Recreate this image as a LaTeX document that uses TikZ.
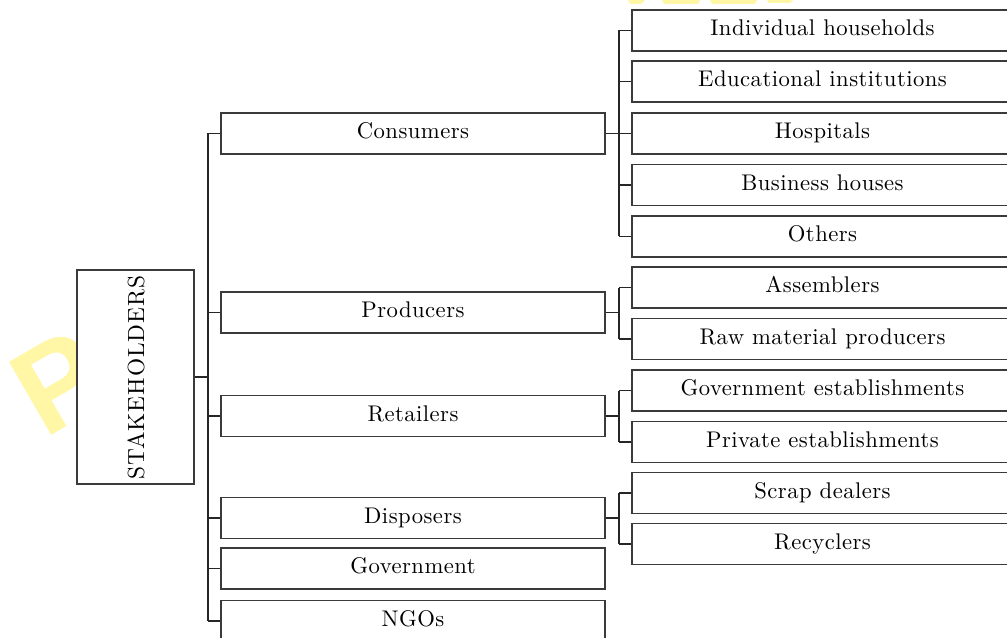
\documentclass[tikz,border=0pt]{standalone}
\usepackage{fontspec}
\newfontfamily\wmfont{Liberation Sans}
\newfontfamily\lmten{lmroman10-regular}[Extension=.otf,LetterSpace=2]
\newfontfamily\lmtenwide{lmroman10-regular}[Extension=.otf,LetterSpace=4]
\definecolor{wm}{HTML}{FFF6A6}
\definecolor{boxline}{HTML}{3A3A3A}
\begin{document}
\begin{tikzpicture}[x=0.75pt,y=-0.75pt,
  box/.style={draw=boxline,line width=1pt,fill=white,inner sep=0pt,
    font=\fontsize{17}{20}\lmten,text height=12pt,text depth=4pt},
  lbox/.style={box,minimum width=288pt,minimum height=30.75pt},
  rbox/.style={box,minimum width=285.75pt,minimum height=30.75pt},
  conn/.style={draw=black!85,line width=0.8pt}]
\useasboundingbox (0,0) rectangle (1007,638);
\clip (0,0) rectangle (1007,638);
% watermark
\node[rotate=30,anchor=base west,inner sep=0pt,text=wm,font=\fontsize{92}{92}\wmfont\bfseries] (wmP) at (44,440) {P};
\fill[wm] (628,0) -- (645,0) -- (641,4) -- (630,4) -- cycle;
\fill[wm] (662,0) -- (700,0) -- (698,4) -- (664,4) -- cycle;
\fill[wm] (710,0) -- (757,0) -- (755,4) -- (712,4) -- cycle;
\fill[wm] (767,0) -- (793,0) -- (790,3) -- (769,3) -- cycle;
% root
\node[draw=boxline,line width=1pt,fill=white,inner sep=0pt,minimum width=87.75pt,minimum height=160.5pt] (stake) at (135.5,377) {};
\node[rotate=90,inner sep=0pt,font=\fontsize{17.5}{20}\lmtenwide] (staketxt) at (136,377.5) {STAKEHOLDERS};
% first level
\node[lbox] (cons) at (413,133.5) {Consumers};
\node[lbox] (prod) at (413,312.5) {Producers};
\node[lbox] (ret)  at (413,416) {Retailers};
\node[lbox] (disp) at (413,518) {Disposers};
\node[lbox] (gov)  at (413,568.5) {Government};
\node[lbox] (ngo)  at (413,621) {NGOs};
% second level
\node[rbox] (c1) at (822.5,30.5) {Individual households};
\node[rbox] (c2) at (822.5,81.5) {Educational institutions};
\node[rbox] (c3) at (822.5,133.5) {Hospitals};
\node[rbox] (c4) at (822.5,185) {Business houses};
\node[rbox] (c5) at (822.5,236.5) {Others};
\node[rbox] (p1) at (822.5,287.5) {Assemblers};
\node[rbox] (p2) at (822.5,339) {Raw material producers};
\node[rbox] (r1) at (822.5,390.5) {Government establishments};
\node[rbox] (r2) at (822.5,442) {Private establishments};
\node[rbox] (d1) at (822.5,493) {Scrap dealers};
\node[rbox] (d2) at (822.5,544) {Recyclers};
% buses
\coordinate (bus0) at (208,377);
\coordinate (bus1) at (619,133.5);
\draw[conn] (stake.east) -- (stake.east -| bus0);
\draw[conn] (cons.west -| bus0) -- (ngo.west -| bus0);
\foreach \n in {cons,prod,ret,disp,gov,ngo} \draw[conn] (\n.west -| bus0) -- (\n.west);
% consumers
\draw[conn] (cons.east) -- (cons.east -| bus1);
\draw[conn] (c1.west -| bus1) -- (c5.west -| bus1);
\foreach \n in {c1,c2,c3,c4,c5} \draw[conn] (\n.west -| bus1) -- (\n.west);
% producers
\draw[conn] (prod.east) -- (prod.east -| bus1);
\draw[conn] (p1.west -| bus1) -- (p2.west -| bus1);
\foreach \n in {p1,p2} \draw[conn] (\n.west -| bus1) -- (\n.west);
% retailers
\draw[conn] (ret.east) -- (ret.east -| bus1);
\draw[conn] (r1.west -| bus1) -- (r2.west -| bus1);
\foreach \n in {r1,r2} \draw[conn] (\n.west -| bus1) -- (\n.west);
% disposers
\draw[conn] (disp.east) -- (disp.east -| bus1);
\draw[conn] (d1.west -| bus1) -- (d2.west -| bus1);
\foreach \n in {d1,d2} \draw[conn] (\n.west -| bus1) -- (\n.west);
\end{tikzpicture}
\end{document}
